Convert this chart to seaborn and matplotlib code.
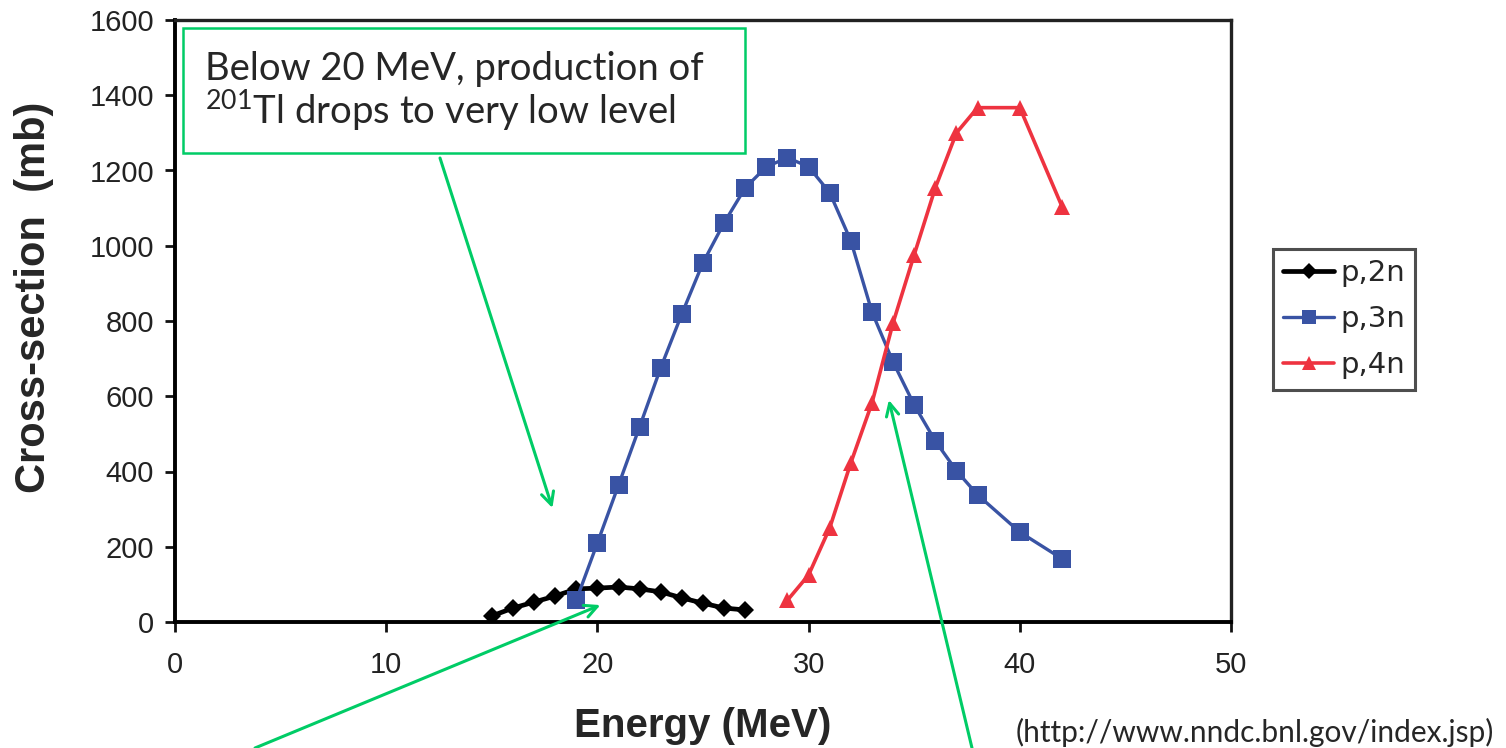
import numpy as np
import pandas as pd
import matplotlib
matplotlib.use("Agg")
import matplotlib.pyplot as plt
from matplotlib.patches import Rectangle
import seaborn as sns

# cross-section data (energy in MeV, cross-section in mb)
energy_2n = [15, 16, 17, 18, 19, 20, 21, 22, 23, 24, 25, 26, 27]
xs_2n = [16, 37, 53, 69, 88, 90, 93, 88, 80, 64, 50, 37, 32]

energy_3n = [19, 20, 21, 22, 23, 24, 25, 26, 27, 28, 29, 30, 31, 32, 33, 34, 35, 36, 37, 38, 40, 42]
xs_3n = [58, 210, 364, 519, 676, 819, 955, 1061, 1154, 1210, 1234, 1210, 1141, 1013, 824, 691,
         577, 481, 402, 338, 239, 168]

energy_4n = [29, 30, 31, 32, 33, 34, 35, 36, 37, 38, 40, 42]
xs_4n = [58, 125, 250, 423, 582, 795, 976, 1154, 1300, 1367, 1367, 1104]

reactions = ["p,2n", "p,3n", "p,4n"]
colors = {"p,2n": "#000000", "p,3n": "#3953A4", "p,4n": "#EE3340"}
markers = {"p,2n": "D", "p,3n": "s", "p,4n": "^"}
msizes = {"p,2n": 9.5, "p,3n": 12.5, "p,4n": 12}
lwidths = {"p,2n": 3.4, "p,3n": 2.4, "p,4n": 2.6}

xticks = [0, 10, 20, 30, 40, 50]
yticks = [0, 200, 400, 600, 800, 1000, 1200, 1400, 1600]

df = pd.concat([
    pd.DataFrame({"energy": energy_2n, "xs": xs_2n, "reaction": "p,2n"}),
    pd.DataFrame({"energy": energy_3n, "xs": xs_3n, "reaction": "p,3n"}),
    pd.DataFrame({"energy": energy_4n, "xs": xs_4n, "reaction": "p,4n"}),
])

sns.set_style("ticks")
plt.rcParams["font.family"] = ["Liberation Sans", "DejaVu Sans"]
plt.rcParams["mathtext.fontset"] = "custom"
plt.rcParams["mathtext.rm"] = "Lato"
plt.rcParams["mathtext.it"] = "Lato"

fig = plt.figure(figsize=(15.06, 7.48), dpi=100)
ax = fig.add_axes([175 / 1506, 1 - 622 / 748, 1056 / 1506, 602 / 748])

for r in reactions:
    sub = df[df.reaction == r]
    sns.lineplot(data=sub, x="energy", y="xs", ax=ax, color=colors[r], label=r,
                 marker=markers[r], markersize=msizes[r], markeredgewidth=0,
                 markeredgecolor=colors[r], linewidth=lwidths[r])

ax.set_xlim(0, 50)
ax.set_ylim(0, 1600)
ax.set_xticks(xticks)
ax.set_yticks(yticks)
tick_font = ["Liberation Sans Narrow", "Liberation Sans", "DejaVu Sans"]
for lab in ax.get_xticklabels() + ax.get_yticklabels():
    lab.set_family(tick_font)
    lab.set_fontsize(21)
    lab.set_color("#222222")
ax.tick_params(axis="x", length=7, width=2, pad=14, color="#111111")
ax.tick_params(axis="y", length=7, width=2, pad=8, color="#111111")
for side in ["left", "bottom"]:
    ax.spines[side].set_linewidth(2.8)
    ax.spines[side].set_color("black")
for side in ["top", "right"]:
    ax.spines[side].set_linewidth(2.4)
    ax.spines[side].set_color("#222222")

ax.set_xlabel("Energy (MeV)", fontsize=29, fontweight="bold", labelpad=20)
ax.set_ylabel("Cross-section  (mb)", fontsize=30, fontweight="bold")
ax.yaxis.set_label_coords(-0.115, 0.54)

leg = ax.legend(loc="upper left", bbox_to_anchor=(1273 / 1506, 1 - 249 / 748),
                bbox_transform=fig.transFigure, borderaxespad=0, frameon=True,
                fancybox=False, prop={"family": "DejaVu Sans", "size": 21},
                handlelength=1.75, handletextpad=0.2, labelspacing=0.62,
                borderpad=0.35)
leg.get_frame().set_edgecolor("#222222")
leg.get_frame().set_linewidth(2.2)
for h in leg.legend_handles:
    h.set_markersize(h.get_markersize() * 0.85)

# annotation box
green = "#00CC66"
fig.patches.append(Rectangle((183 / 1506, 1 - 153 / 748), 562 / 1506, 125 / 748,
                             transform=fig.transFigure, facecolor="white",
                             edgecolor=green, linewidth=1.8, zorder=5))
fig.text(205 / 1506, 1 - 80 / 748, "Below 20 MeV, production of", family="Lato",
         fontsize=27.5, va="baseline", ha="left", zorder=6)
fig.text(205 / 1506, 1 - 124 / 748, r"$^{201}$Tl drops to very low level", family="Lato",
         fontsize=27.5, va="baseline", ha="left", zorder=6)

arrow = dict(arrowstyle="->,head_length=0.9,head_width=0.45", color=green, lw=2.2,
             shrinkA=0, shrinkB=0)
ax.annotate("", xy=(17.87, 303), xycoords="data", xytext=(440, 590),
            textcoords="figure pixels", arrowprops=arrow, annotation_clip=False)
ax.annotate("", xy=(20.14, 45), xycoords="data", xytext=(255, 0),
            textcoords="figure pixels", arrowprops=arrow, annotation_clip=False)
ax.annotate("", xy=(33.8, 590), xycoords="data", xytext=(972, 0),
            textcoords="figure pixels", arrowprops=arrow, annotation_clip=False)

fig.text(1494 / 1506, 1 - 732 / 748, "(http://www.nndc.bnl.gov/index.jsp)", family="Lato",
         fontsize=21.5, ha="right", va="center")

fig.savefig("out.png", dpi=100)
